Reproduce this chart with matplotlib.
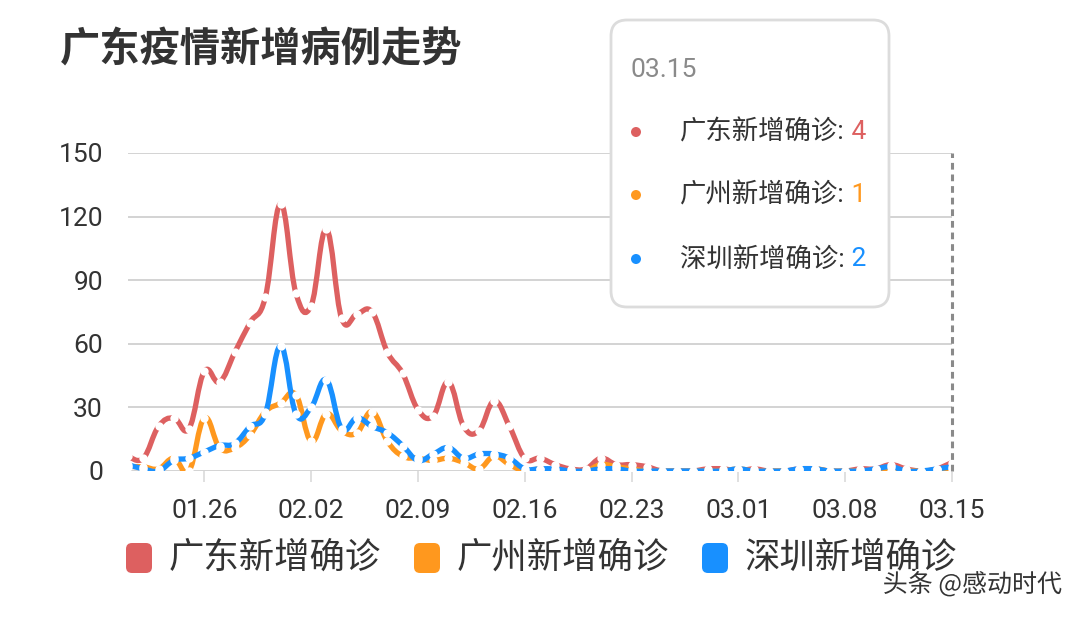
import matplotlib
matplotlib.use("Agg")
import matplotlib.pyplot as plt
from matplotlib.path import Path
from matplotlib.patches import PathPatch, FancyBboxPatch, Circle
from matplotlib.text import Annotation
import matplotlib.patheffects as pe
import numpy as np
import pandas as pd

plt.rcParams["font.family"] = ["Roboto", "Noto Sans CJK SC", "DejaVu Sans"]

# daily new confirmed cases, 2020-01-21 .. 2020-03-15
dates = pd.date_range("2020-01-21", "2020-03-15").strftime("%m.%d").tolist()
guangdong = [7, 6, 21, 25, 20, 47, 42, 56, 70, 82, 126, 84, 78, 114, 72, 74, 75, 56, 46, 29,
             26, 42, 21, 19, 33, 21, 6, 6, 3, 1, 1, 6, 3, 3, 2, 0, 0, 0, 1, 1,
             0, 1, 0, 0, 1, 1, 0, 0, 1, 1, 3, 1, 0, 1, 4]
guangzhou = [2, 2, 1, 6, 0, 25, 11, 11, 17, 28, 32, 36, 14, 27, 19, 18, 28, 14, 7, 6,
             5, 6, 4, 1, 7, 3, 0, 1, 0, 0, 0, 3, 2, 1, 0, 0, 0, 0, 0, 0,
             1, 0, 0, 0, 0, 1, 0, 0, 0, 0, 0, 0, 0, 0, 1]
shenzhen = [3, 1, 0, 5, 6, 9, 12, 13, 21, 27, 59, 27, 30, 43, 20, 25, 21, 18, 12, 5,
            8, 11, 6, 8, 8, 6, 1, 1, 1, 0, 0, 1, 1, 0, 0, 0, 0, 0, 0, 0,
            1, 0, 0, 0, 1, 1, 0, 0, 0, 1, 2, 0, 0, 1, 2]
series_names = ["广东新增确诊", "广州新增确诊", "深圳新增确诊"]
colors = ["#DD6060", "#FF981E", "#1890FF"]
tick_labels = ["01.26", "02.02", "02.09", "02.16", "02.23", "03.01", "03.08", "03.15"]
y_ticks = [0, 30, 60, 90, 120, 150]


def smooth_path(x, y, s=0.2):
    n = len(x)
    verts = [(x[0], y[0])]
    codes = [Path.MOVETO]
    for i in range(n - 1):
        a = max(i - 1, 0)
        b = min(i + 2, n - 1)
        c1 = (x[i] + (x[i + 1] - x[a]) * s, y[i] + (y[i + 1] - y[a]) * s)
        c2 = (x[i + 1] - (x[b] - x[i]) * s, y[i + 1] - (y[b] - y[i]) * s)
        verts += [c1, c2, (x[i + 1], y[i + 1])]
        codes += [Path.CURVE4] * 3
    return Path(verts, codes)


fig = plt.figure(figsize=(10.8, 6.18), dpi=100)
ax = fig.add_axes([128 / 1080, 147 / 618, 824 / 1080, 318 / 618])

x = np.arange(len(dates))
for vals, c in zip([guangdong, guangzhou, shenzhen], colors):
    p = smooth_path(x, np.array(vals, dtype=float))
    ax.add_patch(PathPatch(p, fill=False, ec=c, lw=3.8, capstyle="butt", joinstyle="round"))
    ax.plot(x, vals, "o", color="white", ms=6, mec="none")

ax.axvline(len(dates) - 1, color="#8a8a8a", lw=2.2, ls=(0, (2.2, 1.6)), clip_on=False)

ax.set_xlim(0, len(dates) - 1)
ax.set_ylim(0, 150)
ax.set_yticks(y_ticks)
ax.set_yticklabels([str(v) for v in y_ticks])
ax.set_xticks([dates.index(t) for t in tick_labels])
ax.set_xticklabels(tick_labels)
ax.grid(axis="y", color="#d0d0d0", lw=1.3)
ax.set_axisbelow(True)
for s in ax.spines.values():
    s.set_visible(False)
ax.tick_params(axis="y", length=0, pad=18, labelsize=19, labelcolor="#333333")
ax.tick_params(axis="x", length=8, width=1.3, color="#dddddd", pad=12, labelsize=19, labelcolor="#333333")

# title
fig.text(60 / 1080, 1 - 50 / 618, "广东疫情新增病例走势", fontsize=29, fontweight="bold",
         color="#333333", va="center", ha="left", family=["Noto Sans CJK SC"])

# legend at bottom
leg_x = [126, 414, 702]
for lx, name, c in zip(leg_x, series_names, colors):
    fig.patches.append(FancyBboxPatch((lx / 100, 0.45), 0.26, 0.30,
                                      boxstyle="round,pad=0,rounding_size=0.06",
                                      fc=c, ec="none", transform=fig.dpi_scale_trans))
    fig.text((lx + 43) / 1080, 0.60 / 6.18, name, fontsize=25.5, color="#333333",
             va="center", ha="left", family=["Noto Sans CJK SC"])

# tooltip
fig.patches.append(FancyBboxPatch((6.11, 3.11), 2.78, 2.87,
                                  boxstyle="round,pad=0,rounding_size=0.16",
                                  fc="white", ec="#dcdcdc", lw=2, transform=fig.dpi_scale_trans,
                                  zorder=5))
fig.text(630 / 1080, 1 - 70 / 618, dates[-1], fontsize=19, color="#8a8a8a",
         va="center", ha="left", zorder=6)
row_y = [132, 195, 259]
for ry, name, vals, c in zip(row_y, series_names, [guangdong, guangzhou, shenzhen], colors):
    fig.patches.append(Circle((6.36, (618 - ry) / 100), 0.05, fc=c, ec="none",
                              transform=fig.dpi_scale_trans, zorder=6))
    t = fig.text(680 / 1080, 1 - ry / 618, name + ":", fontsize=19, color="#333333",
                 va="center", ha="left", zorder=6)
    val = Annotation(" " + str(vals[-1]), xy=(1, 0.5), xycoords=t, va="center", ha="left",
                     fontsize=19, color=c, annotation_clip=False)
    val.set_zorder(7)
    fig.add_artist(val)

# watermark
fig.text(1062 / 1080, 1 - 585 / 618, "头条 @感动时代", fontsize=18, color="#333333",
         ha="right", va="center", family=["Noto Sans CJK SC"],
         path_effects=[pe.withStroke(linewidth=3, foreground="white")])

fig.savefig("out.png", dpi=100)
